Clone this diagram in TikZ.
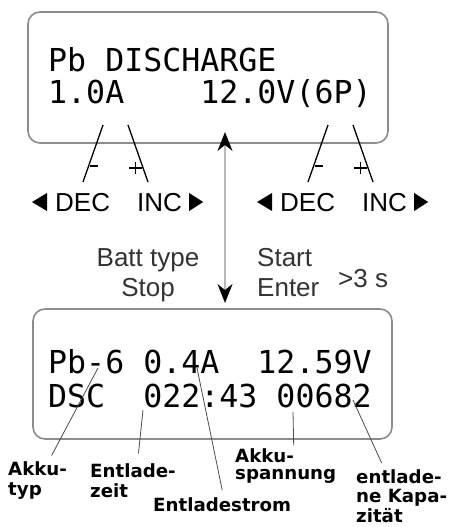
\documentclass[tikz,border=0pt]{standalone}
\usepackage{fontspec}
\setmainfont{Liberation Sans}
\newfontfamily\lcdfont{DejaVu Sans Mono}
\newfontfamily\notefont{DejaVu Sans}
\usetikzlibrary{arrows.meta}

\tikzset{
  display/.style={draw=black!45, line width=1.6pt, rounded corners=12pt, inner sep=0pt},
  lcd/.style={anchor=base west, inner sep=0pt, font=\lcdfont\fontsize{31.6}{32}\selectfont},
  key/.style={anchor=base west, inner sep=0pt, font=\fontsize{26}{29.5}\selectfont},
  note/.style={anchor=base west, inner sep=0pt, align=left, font=\notefont\bfseries\fontsize{18.2}{19.5}\selectfont},
  pointer/.style={black!70, line width=0.8pt},
  keyline/.style={black, line width=1.3pt},
  swtip/.tip={Stealth[color=black, length=19pt, width=15pt, inset=6pt]}
}

\begin{document}
\begin{tikzpicture}[x=1pt,y=-1pt]
  \useasboundingbox (0,0) rectangle (448,527);
  % top display
  \node[display, minimum width=360pt, minimum height=131pt] (topbox) at (208,77.5) {};
  \node[lcd] (mode) at (48,71) {Pb DISCHARGE};
  \node[lcd] (setting) at (48,103) {1.0A~~~~12.0V(6P)};
  % DEC / INC keys below both values
  \foreach \dx/\k in {0/l,225/r} {
    \draw[keyline] (103+\dx,125) -- (83+\dx,182);
    \draw[keyline] (90+\dx,166) -- (98+\dx,166);
    \draw[keyline] (128+\dx,125) -- (148+\dx,182);
    \draw[keyline] (129+\dx,168) -- (142+\dx,168) (135.5+\dx,162) -- (135.5+\dx,174);
    \node[key] (dec\k) at (55+\dx,211) {DEC};
    \node[key] (inc\k) at (137+\dx,211) {INC};
    \fill ([xshift=-8pt]dec\k.base west) -- ++(0,-18) -- ++(-15,9) -- cycle;
    \fill ([xshift=7pt]inc\k.base east) -- ++(0,-18) -- ++(14,9) -- cycle;
  }
  % switch between the displays
  \coordinate (up) at (225,132);
  \coordinate (dn) at (225,303);
  \draw[gray!55, line width=1.8pt, {swtip}-{swtip}] (up) -- (dn);
  \node[key, text=black!80, align=center, anchor=base] (batt) at (148,296) {Batt type\\Stop};
  \node[key, text=black!80, align=left] (start) at (257,296) {Start\\Enter};
  \node[key, text=black!80] (hold) at (338,287) {>3 s};
  % bottom display
  \node[display, minimum width=359pt, minimum height=130pt] (botbox) at (212.5,374) {};
  \node[lcd] (line1) at (48,373) {Pb-6 0.4A~~12.59V};
  \node[lcd] (line2) at (48,407) {DSC~~022:43 00682};
  % what the fields mean
  \coordinate (typpt) at (98,368);
  \coordinate (zeitpt) at (143,410);
  \coordinate (strompt) at (197,368);
  \coordinate (spgpt) at (293,412);
  \coordinate (kappt) at (353,400);
  \node[note] (typ) at (8,495) {Akku-\\typ};
  \node[note] (zeit) at (90,497) {Entlade-\\zeit};
  \node[note] (strom) at (153,511) {Entladestrom};
  \node[note] (spannung) at (235,479) {Akku-\\[-3pt]spannung};
  \node[note] (kap) at (356,522) {entlade-\\ne Kapa-\\zität};
  \draw[pointer] (typpt) -- ([shift={(14,-6)}]typ.north);
  \draw[pointer] (zeitpt) -- ([shift={(5.5,-10)}]zeit.north);
  \draw[pointer] (strompt) -- ([shift={(0,-7)}]strom.north);
  \draw[pointer] (spgpt) -- ([shift={(8,-3)}]spannung.north);
  \draw[pointer] (kappt) -- ([shift={(-20,-6)}]kap.north);
\end{tikzpicture}
\end{document}
